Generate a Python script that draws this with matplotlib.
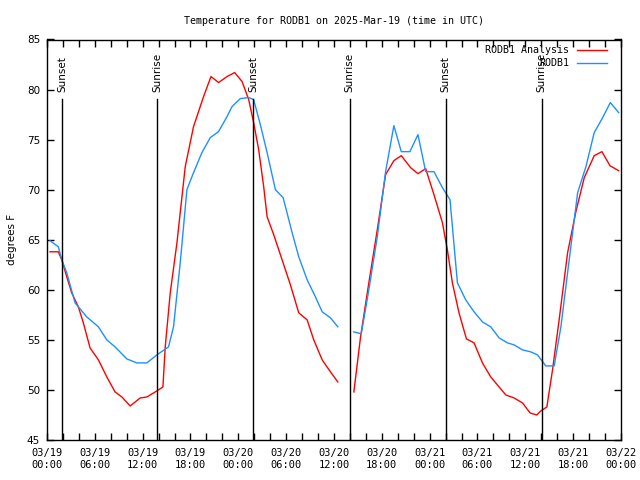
import datetime as dt

import matplotlib
matplotlib.use("Agg")
import matplotlib.pyplot as plt
import matplotlib.dates as mdates
import numpy as np

# hours since 2025-03-19 00:00 UTC; nan marks the data gap
analysis_hours = [0.38, 1.42, 1.85, 2.48, 3.10, 3.93, 4.56, 5.40, 6.45, 7.50, 8.54, 9.39,
                  10.43, 11.69, 12.53, 13.78, 14.54, 14.83, 15.46, 16.30, 17.34, 18.38,
                  19.64, 20.57, 21.52, 22.58, 23.54, 24.47, 25.30, 25.92, 26.55, 27.18,
                  27.61, 28.44, 29.49, 30.53, 31.58, 32.63, 33.46, 34.52, 35.56, 36.48,
                  37.5,
                  38.49, 39.33, 40.37, 41.43, 42.47, 43.51, 44.44, 45.61, 46.53, 47.50,
                  48.54, 49.60, 50.22, 50.85, 51.68, 52.61, 53.57, 54.62, 55.66, 56.50,
                  57.55, 58.59, 59.65, 60.60, 61.44, 61.94, 62.70, 63.41, 64.24, 65.30,
                  66.34, 67.39, 68.64, 69.61, 70.61, 71.70]
analysis_temp = [63.8, 63.8, 63.0, 61.3, 59.7, 58.3, 56.7, 54.2, 53.0, 51.3, 49.8, 49.3,
                 48.4, 49.2, 49.3, 49.9, 50.3, 54.3, 59.7, 64.7, 72.3, 76.3,
                 79.3, 81.3, 80.7, 81.3, 81.7, 80.8, 79.0, 76.7, 74.0, 70.3,
                 67.3, 65.5, 63.0, 60.5, 57.7, 57.0, 55.0, 53.0, 51.8, 50.8,
                 np.nan,
                 49.8, 55.3, 60.7, 66.0, 71.5, 72.9, 73.4, 72.2, 71.6, 72.1,
                 69.5, 66.7, 64.0, 60.7, 57.7, 55.1, 54.7, 52.7, 51.3, 50.5,
                 49.5, 49.2, 48.7, 47.7, 47.5, 47.9, 48.3, 52.0, 57.0, 63.7,
                 67.8, 71.2, 73.4, 73.8, 72.4, 71.9]

obs_hours = [0.38, 1.42, 1.85, 2.48, 3.52, 4.98, 6.45, 7.50, 8.54, 10.01, 11.27, 12.53,
             13.78, 15.24, 15.87, 16.71, 17.55, 18.38, 19.43, 20.48, 21.52, 22.58,
             23.21, 24.25, 25.30, 25.92, 26.76, 27.61, 28.65, 29.62, 30.75, 31.58,
             32.63, 33.67, 34.52, 35.56, 36.48,
             37.5,
             38.49, 39.42, 40.37, 41.43, 42.47, 43.51, 44.44, 45.52, 46.53, 47.50,
             48.54, 49.60, 50.55, 51.48, 52.52, 53.57, 54.62, 55.66, 56.71, 57.77,
             58.59, 59.65, 60.69, 61.53, 62.57, 63.62, 64.46, 65.30, 66.56, 67.60,
             68.64, 69.70, 70.66, 71.71]
obs_temp = [64.9, 64.3, 63.0, 61.7, 58.7, 57.3, 56.3, 55.0, 54.3, 53.1, 52.7, 52.7,
            53.5, 54.3, 56.3, 62.7, 70.0, 71.7, 73.7, 75.2, 75.8, 77.3,
            78.3, 79.1, 79.2, 79.0, 76.5, 73.7, 70.0, 69.2, 65.7, 63.3,
            61.0, 59.3, 57.8, 57.2, 56.3,
            np.nan,
            55.8, 55.6, 60.0, 65.3, 71.8, 76.4, 73.8, 73.8, 75.5, 71.8,
            71.8, 70.2, 69.0, 60.7, 59.0, 57.8, 56.8, 56.3, 55.2, 54.7,
            54.5, 54.0, 53.8, 53.5, 52.4, 52.4, 56.3, 61.7, 69.7, 72.3,
            75.7, 77.2, 78.7, 77.7]

sun_hours = [1.88, 13.82, 25.88, 37.95, 50.0, 62.07]
sun_labels = ["Sunset", "Sunrise", "Sunset", "Sunrise", "Sunset", "Sunrise"]

start = dt.datetime(2025, 3, 19)


def to_times(hours):
    return [start + dt.timedelta(hours=h) for h in hours]


fig = plt.figure(figsize=(6.4, 4.8), dpi=100)
ax = fig.add_axes([47 / 640, 40 / 480, 574 / 640, 400.5 / 480])

ax.plot(to_times(analysis_hours), analysis_temp, color="#ff0000", lw=1.0, label="RODB1 Analysis")
ax.plot(to_times(obs_hours), obs_temp, color="#1e90ff", lw=1.0, label="RODB1")

for h, lab in zip(sun_hours, sun_labels):
    t = start + dt.timedelta(hours=h)
    ax.plot([t, t], [45, 79.1], color="black", lw=1.0)
    ax.text(t, 79.8, lab, rotation=90, ha="center", va="bottom", fontsize=7.5,
            family="DejaVu Sans")

ax.set_xlim(start, start + dt.timedelta(hours=72))
ax.set_ylim(45, 85)
ax.set_yticks(np.arange(45, 86, 5))
ax.xaxis.set_major_locator(mdates.HourLocator(byhour=range(0, 24, 6)))
ax.xaxis.set_minor_locator(mdates.HourLocator(byhour=range(0, 24, 2)))
ax.xaxis.set_major_formatter(mdates.DateFormatter("%m/%d\n%H:%M"))
ax.tick_params(which="both", direction="in", length=5, width=1,
               top=True, right=True, labelsize=7.5)
ax.tick_params(axis="x", pad=6)
ax.tick_params(axis="y", pad=5)
for lab in ax.get_xticklabels():
    lab.set_family("DejaVu Sans Mono")
for s in ax.spines.values():
    s.set_linewidth(1.0)

ax.set_ylabel("degrees F", fontsize=7.5, labelpad=7)
ax.set_title("Temperature for RODB1 on 2025-Mar-19 (time in UTC)",
             fontsize=7.2, family="DejaVu Sans Mono", pad=11)

ax.legend(loc="upper right", frameon=False, markerfirst=False, handlelength=3.0,
          prop={"family": "DejaVu Sans Mono", "size": 7.2},
          borderaxespad=0.15, labelspacing=0.3, handletextpad=0.8,
          bbox_to_anchor=(0.985, 1.0))

fig.savefig("out.png", dpi=100)
